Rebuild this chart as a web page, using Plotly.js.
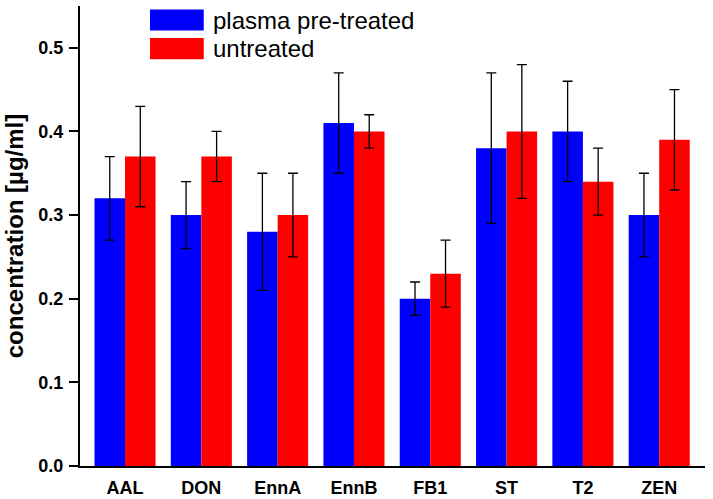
<!DOCTYPE html>
<html>
<head>
<meta charset="utf-8">
<script src="https://cdn.plot.ly/plotly-3.0.1.min.js"></script>
<style>html,body{margin:0;padding:0;background:#fff;}#chart{width:713px;height:499px;}</style>
</head>
<body>
<div id="chart"></div>
<script>
const categories = ["AAL", "DON", "EnnA", "EnnB", "FB1", "ST", "T2", "ZEN"];
const plasmaValues = [0.32, 0.30, 0.28, 0.41, 0.20, 0.38, 0.40, 0.30];
const plasmaErrors = [0.05, 0.04, 0.07, 0.06, 0.02, 0.09, 0.06, 0.05];
const untreatedValues = [0.37, 0.37, 0.30, 0.40, 0.23, 0.40, 0.34, 0.39];
const untreatedErrors = [0.06, 0.03, 0.05, 0.02, 0.04, 0.08, 0.04, 0.06];
const seriesNames = ["plasma pre-treated", "untreated"];
const yTicks = [0, 0.1, 0.2, 0.3, 0.4, 0.5];
const yTickLabels = ["0.0", "0.1", "0.2", "0.3", "0.4", "0.5"];

const font = "Liberation Sans, Arial, sans-serif";
const errStyle = {type: "data", visible: true, color: "#000", thickness: 1.3, width: 5};

const traces = [
  {type: "bar", name: seriesNames[0], x: categories, y: plasmaValues,
   error_y: Object.assign({array: plasmaErrors}, errStyle),
   marker: {color: "#0000ff", line: {width: 0}}},
  {type: "bar", name: seriesNames[1], x: categories, y: untreatedValues,
   error_y: Object.assign({array: untreatedErrors}, errStyle),
   marker: {color: "#ff0000", line: {width: 0}}}
];

const layout = {
  width: 713, height: 499,
  margin: {l: 80, r: 8, t: 6, b: 33},
  paper_bgcolor: "#fff", plot_bgcolor: "#fff",
  barmode: "group", bargap: 0.2, bargroupgap: 0,
  showlegend: false,
  xaxis: {
    type: "category", range: [-0.59, 7.6],
    showline: true, linecolor: "#000", linewidth: 2,
    ticks: "", showgrid: false, zeroline: false,
    tickfont: {family: font, size: 18, color: "#000", weight: "bold"},
    ticklabelstandoff: 4
  },
  yaxis: {
    range: [0, 0.55], tickvals: yTicks, ticktext: yTickLabels,
    showline: true, linecolor: "#000", linewidth: 2,
    ticks: "outside", ticklen: 9, tickwidth: 2, tickcolor: "#000",
    showgrid: false, zeroline: false,
    tickfont: {family: font, size: 18, color: "#000", weight: "bold"},
    ticklabelstandoff: 2,
    title: {text: "concentration [µg/ml]", font: {family: font, size: 24, color: "#000", weight: "bold"}, standoff: 8}
  },
  shapes: [
    {type: "rect", xref: "paper", yref: "paper", x0: 0.112, x1: 0.198, y0: 0.9465, y1: 0.9925, fillcolor: "#0000ff", line: {width: 0}},
    {type: "rect", xref: "paper", yref: "paper", x0: 0.112, x1: 0.198, y0: 0.8845, y1: 0.9305, fillcolor: "#ff0000", line: {width: 0}}
  ],
  annotations: [
    {xref: "paper", yref: "paper", x: 0.209, y: 0.969, xanchor: "left", yanchor: "middle", showarrow: false,
     text: seriesNames[0], font: {family: font, size: 24, color: "#000"}},
    {xref: "paper", yref: "paper", x: 0.209, y: 0.907, xanchor: "left", yanchor: "middle", showarrow: false,
     text: seriesNames[1], font: {family: font, size: 24, color: "#000"}}
  ]
};

Plotly.newPlot("chart", traces, layout, {displayModeBar: false, staticPlot: true});
</script>
</body>
</html>
